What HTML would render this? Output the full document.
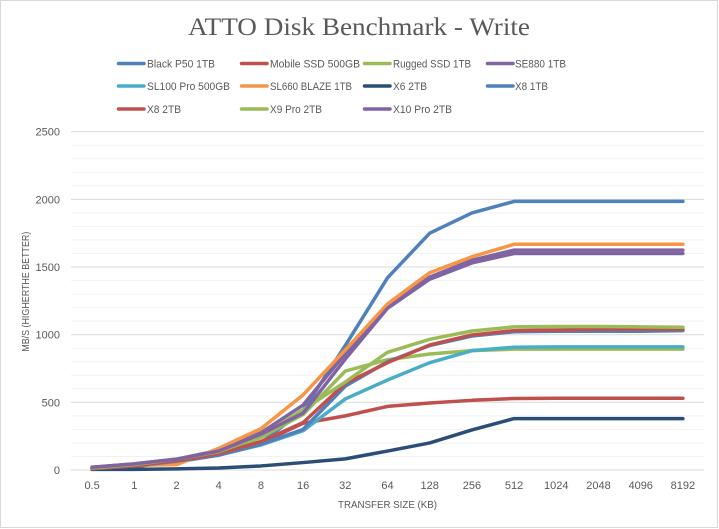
<!DOCTYPE html>
<html>
<head>
<meta charset="utf-8">
<style>
html,body{margin:0;padding:0;background:#fff;}
svg{display:block;}
text{font-family:"Liberation Sans",sans-serif;fill:#595959;}
</style>
</head>
<body>
<svg width="719" height="529" viewBox="0 0 719 529" xmlns="http://www.w3.org/2000/svg">
<rect x="0" y="0" width="719" height="529" fill="#fff"/>
<rect x="0.5" y="0.5" width="717" height="527" fill="none" stroke="#D9D9D9" stroke-width="1"/>

<!-- Title -->
<text x="188" y="35" font-family="Liberation Serif, serif" style="font-family:'Liberation Serif',serif" font-size="25" textLength="342" lengthAdjust="spacingAndGlyphs">ATTO Disk Benchmark - Write</text>

<!-- minor gridlines -->
<g stroke="#F2F2F2" stroke-width="1">
<line x1="71" x2="704" y1="456.5" y2="456.5"/><line x1="71" x2="704" y1="443.0" y2="443.0"/><line x1="71" x2="704" y1="429.4" y2="429.4"/><line x1="71" x2="704" y1="415.9" y2="415.9"/>
<line x1="71" x2="704" y1="388.8" y2="388.8"/><line x1="71" x2="704" y1="375.3" y2="375.3"/><line x1="71" x2="704" y1="361.7" y2="361.7"/><line x1="71" x2="704" y1="348.2" y2="348.2"/>
<line x1="71" x2="704" y1="321.1" y2="321.1"/><line x1="71" x2="704" y1="307.6" y2="307.6"/><line x1="71" x2="704" y1="294.1" y2="294.1"/><line x1="71" x2="704" y1="280.5" y2="280.5"/>
<line x1="71" x2="704" y1="253.5" y2="253.5"/><line x1="71" x2="704" y1="239.9" y2="239.9"/><line x1="71" x2="704" y1="226.4" y2="226.4"/><line x1="71" x2="704" y1="212.9" y2="212.9"/>
<line x1="71" x2="704" y1="185.8" y2="185.8"/><line x1="71" x2="704" y1="172.3" y2="172.3"/><line x1="71" x2="704" y1="158.7" y2="158.7"/><line x1="71" x2="704" y1="145.2" y2="145.2"/>
</g>
<!-- major gridlines -->
<g stroke="#D9D9D9" stroke-width="1">
<line x1="71" x2="704" y1="402.3" y2="402.3"/>
<line x1="71" x2="704" y1="334.7" y2="334.7"/>
<line x1="71" x2="704" y1="267.0" y2="267.0"/>
<line x1="71" x2="704" y1="199.4" y2="199.4"/>
<line x1="71" x2="704" y1="131.7" y2="131.7"/>
<line x1="71" x2="704" y1="470" y2="470"/>
</g>

<!-- Y labels -->
<g font-size="11" text-anchor="end">
<text x="60" y="474">0</text>
<text x="60" y="406.3">500</text>
<text x="60" y="338.7">1000</text>
<text x="60" y="271">1500</text>
<text x="60" y="203.4">2000</text>
<text x="60" y="135.7">2500</text>
</g>
<text transform="translate(29 291.7) rotate(-90)" font-size="10.5" text-anchor="middle" textLength="120" lengthAdjust="spacingAndGlyphs">MB/S (HIGHERTHE BETTER)</text>

<!-- X labels -->
<g font-size="11" text-anchor="middle">
<text x="92.1" y="489">0.5</text>
<text x="134.3" y="489">1</text>
<text x="176.5" y="489">2</text>
<text x="218.7" y="489">4</text>
<text x="260.9" y="489">8</text>
<text x="303.1" y="489">16</text>
<text x="345.3" y="489">32</text>
<text x="387.5" y="489">64</text>
<text x="429.7" y="489">128</text>
<text x="471.9" y="489">256</text>
<text x="514.1" y="489">512</text>
<text x="556.3" y="489">1024</text>
<text x="598.5" y="489">2048</text>
<text x="640.7" y="489">4096</text>
<text x="682.9" y="489">8192</text>
</g>
<text x="387.5" y="508" font-size="10.5" text-anchor="middle" textLength="99" lengthAdjust="spacingAndGlyphs">TRANSFER SIZE (KB)</text>

<!-- Series -->
<g fill="none" stroke-width="3.5" stroke-linejoin="round" stroke-linecap="round" transform="translate(92.1 470) scale(42.2 -0.13532)">
<polyline vector-effect="non-scaling-stroke" stroke="#4F81BD" points="0,15 1,35 2,70 3,120 4,200 5,440 6,920 7,1420 8,1750 9,1900 10,1985 11,1985 12,1985 13,1985 14,1985"/>
<polyline vector-effect="non-scaling-stroke" stroke="#C0504D" points="0,10 1,25 2,60 3,110 4,200 5,345 6,400 7,470 8,495 9,515 10,528 11,530 12,530 13,530 14,530"/>
<polyline vector-effect="non-scaling-stroke" stroke="#9BBB59" points="0,15 1,40 2,75 3,130 4,240 5,410 6,731 7,815 8,857 9,882 10,893 11,893 12,893 13,893 14,893"/>
<polyline vector-effect="non-scaling-stroke" stroke="#8064A2" points="0,20 1,45 2,80 3,145 4,275 5,480 6,860 7,1210 8,1425 9,1550 10,1625 11,1625 12,1625 13,1625 14,1625"/>
<polyline vector-effect="non-scaling-stroke" stroke="#4BACC6" points="0,10 1,30 2,65 3,110 4,185 5,290 6,525 7,665 8,793 9,882 10,907 11,910 12,910 13,910 14,910"/>
<polyline vector-effect="non-scaling-stroke" stroke="#F79646" points="0,15 1,35 2,40 3,160 4,305 5,555 6,887 7,1227 8,1458 9,1576 10,1668 11,1668 12,1668 13,1668 14,1668"/>
<polyline vector-effect="non-scaling-stroke" stroke="#2C4D75" points="0,5 1,5 2,8 3,15 4,30 5,55 6,82 7,140 8,200 9,296 10,380 11,380 12,380 13,380 14,380"/>
<polyline vector-effect="non-scaling-stroke" stroke="#4F81BD" points="0,10 1,30 2,65 3,110 4,190 5,300 6,620 7,800 8,920 9,990 10,1022 11,1025 12,1025 13,1025 14,1030"/>
<polyline vector-effect="non-scaling-stroke" stroke="#C0504D" points="0,10 1,30 2,70 3,120 4,210 5,350 6,640 7,793 8,924 9,998 10,1030 11,1035 12,1040 13,1040 14,1040"/>
<polyline vector-effect="non-scaling-stroke" stroke="#9BBB59" points="0,15 1,40 2,80 3,135 4,250 5,445 6,650 7,870 8,966 9,1027 10,1058 11,1060 12,1060 13,1058 14,1055"/>
<polyline vector-effect="non-scaling-stroke" stroke="#8064A2" points="0,20 1,45 2,80 3,140 4,265 5,420 6,820 7,1195 8,1410 9,1530 10,1600 11,1600 12,1600 13,1600 14,1600"/>
</g>

<!-- Legend -->
<g stroke-width="3.5" stroke-linecap="round">
<line x1="118.5" x2="144" y1="63.5" y2="63.5" stroke="#4F81BD"/>
<line x1="241.5" x2="267" y1="63.5" y2="63.5" stroke="#C0504D"/>
<line x1="364.5" x2="390" y1="63.5" y2="63.5" stroke="#9BBB59"/>
<line x1="487.5" x2="513" y1="63.5" y2="63.5" stroke="#8064A2"/>
<line x1="118.5" x2="144" y1="86" y2="86" stroke="#4BACC6"/>
<line x1="241.5" x2="267" y1="86" y2="86" stroke="#F79646"/>
<line x1="364.5" x2="390" y1="86" y2="86" stroke="#2C4D75"/>
<line x1="487.5" x2="513" y1="86" y2="86" stroke="#4F81BD"/>
<line x1="118.5" x2="144" y1="109" y2="109" stroke="#C0504D"/>
<line x1="241.5" x2="267" y1="109" y2="109" stroke="#9BBB59"/>
<line x1="364.5" x2="390" y1="109" y2="109" stroke="#8064A2"/>
</g>
<g font-size="11" lengthAdjust="spacingAndGlyphs">
<text x="147" y="67.5" textLength="68" lengthAdjust="spacingAndGlyphs">Black P50 1TB</text>
<text x="270" y="67.5" textLength="90" lengthAdjust="spacingAndGlyphs">Mobile SSD 500GB</text>
<text x="393" y="67.5" textLength="78" lengthAdjust="spacingAndGlyphs">Rugged SSD 1TB</text>
<text x="515" y="67.5" textLength="51" lengthAdjust="spacingAndGlyphs">SE880 1TB</text>
<text x="147" y="90" textLength="83" lengthAdjust="spacingAndGlyphs">SL100 Pro 500GB</text>
<text x="270" y="90" textLength="82" lengthAdjust="spacingAndGlyphs">SL660 BLAZE 1TB</text>
<text x="393" y="90" textLength="34" lengthAdjust="spacingAndGlyphs">X6 2TB</text>
<text x="515" y="90" textLength="33" lengthAdjust="spacingAndGlyphs">X8 1TB</text>
<text x="147" y="113" textLength="34" lengthAdjust="spacingAndGlyphs">X8 2TB</text>
<text x="270" y="113" textLength="52" lengthAdjust="spacingAndGlyphs">X9 Pro 2TB</text>
<text x="393" y="113" textLength="59" lengthAdjust="spacingAndGlyphs">X10 Pro 2TB</text>
</g>
</svg>
</body>
</html>
